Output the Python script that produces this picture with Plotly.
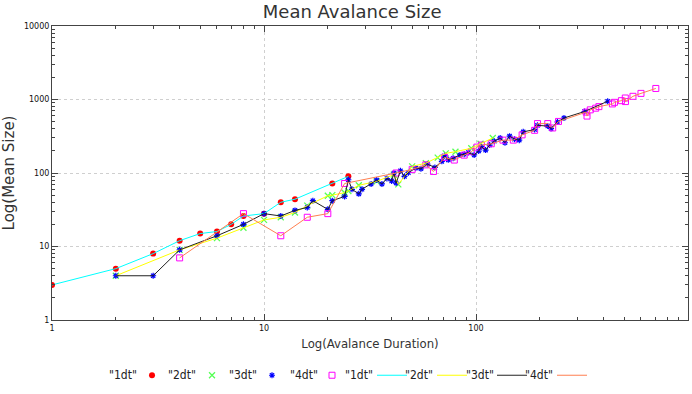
import plotly.graph_objects as go

# ---- data ----
dur_1dt = [1, 2, 3, 4, 5, 6, 7, 8, 10, 12, 14, 21, 25]
size_1dt = [3, 5, 8, 12, 15, 16, 20, 26, 28, 40, 44, 72, 90]

dur_2dt = [2, 4, 6, 8, 10, 12, 14, 16, 20, 21, 24, 25, 28, 34, 41, 43, 50, 58, 66, 72, 80, 95, 105, 120]
size_2dt = [4, 9, 13, 18, 23, 25, 29, 36, 49, 50, 54, 57, 68, 77, 95, 70, 123, 136, 162, 185, 195, 217, 250, 300]

dur_3dt = [2, 3, 4, 6, 8, 10, 12, 14, 16, 17, 20, 21, 24, 25, 26, 28, 29, 32, 34, 36, 38, 40, 41, 42, 44, 46, 48,
           52, 55, 59, 64, 69, 71, 74, 78, 84, 88, 92, 98, 103, 106, 111, 116, 122, 130, 137, 144, 152, 160, 167,
           189, 195, 218, 226, 242, 260, 325, 418]
size_3dt = [4, 4, 9, 14, 20, 28, 26, 31, 34, 42, 32, 42, 48, 81, 60, 52, 60, 71, 80, 71, 84, 78, 100, 73, 107, 90, 101,
            117, 114, 132, 119, 144, 171, 151, 159, 176, 180, 190, 176, 199, 228, 205, 240, 271, 300, 258, 317, 288, 280, 363,
            390, 445, 435, 402, 494, 560, 686, 946]

dur_4dt = [4, 8, 12, 16, 20, 24, 42, 50, 58, 63, 71, 79, 88, 95, 101, 106, 118, 134, 150, 165, 189, 195, 218, 230,
           245, 331, 334, 346, 367, 380, 440, 450, 485, 506, 507, 550, 600, 705]
size_4dt = [7, 28, 14, 25, 28, 72, 100, 112, 129, 105, 163, 150, 175, 195, 225, 240, 250, 280, 280, 330, 381, 470, 470, 410,
            503, 673, 595, 723, 762, 800, 871, 915, 964, 1048, 937, 1105, 1211, 1413]

series_names = ['"1dt"', '"2dt"', '"3dt"', '"4dt"']
x_ticks = [1, 10, 100, 1000]
y_ticks = [1, 10, 100, 1000, 10000]

durations = [dur_1dt, dur_2dt, dur_3dt, dur_4dt]
sizes = [size_1dt, size_2dt, size_3dt, size_4dt]

marker_styles = [
    dict(symbol="circle", size=6, color="#ff0000"),
    dict(symbol="x-thin-open", size=6, color="#55ff55", line=dict(width=1.3, color="#55ff55")),
    dict(symbol="asterisk-open", size=5, color="#0000ff", line=dict(width=1.2, color="#1a1aff")),
    dict(symbol="square-open", size=6, color="#ff00ff", line=dict(width=1, color="#ff00ff")),
]
line_colors = ["#00ffff", "#ffff00", "#222222", "#ff7f50"]

fig = go.Figure()
for name, xs, ys, ms in zip(series_names, durations, sizes, marker_styles):
    fig.add_trace(go.Scatter(x=xs, y=ys, mode="markers", marker=ms, name=name, legendgroup="p" + name))
for name, xs, ys, lc in zip(series_names, durations, sizes, line_colors):
    fig.add_trace(go.Scatter(x=xs, y=ys, mode="lines", line=dict(color=lc, width=1), name=name,
                             legendgroup="l" + name))

# legend labels are drawn before the symbol, as in the reference
L, R, T, B = 52, 4, 26, 70
W, H = 692, 394
pw = W - L - R
ph = H - T - B
sym_px = [152, 211, 272, 333, 392, 452, 513, 572]
label_offsets = [29, 29, 29, 29, 33, 33, 33, 33]
label_names = series_names + series_names
annotations = []
for px, off, lab in zip(sym_px, label_offsets, label_names):
    annotations.append(dict(x=(px - off - L) / pw, y=(T + ph - 380) / ph, xref="paper", yref="paper",
                            text=lab, showarrow=False, xanchor="center", yanchor="middle",
                            font=dict(family="DejaVu Sans Condensed", size=12, color="#222")))


def minor_vals(top_exp):
    return [k * 10 ** e for e in range(top_exp) for k in range(2, 10)]


axis_common = dict(
    type="log", showline=True, linecolor="#444", linewidth=1, mirror="allticks",
    ticks="inside", ticklen=6, tickcolor="#444", tickwidth=1,
    showgrid=True, gridcolor="#cfcfcf", griddash="dot", gridwidth=1,
    zeroline=False, tickfont=dict(family="DejaVu Sans", size=8, color="#111"),
)

fig.update_layout(
    width=W, height=H,
    margin=dict(l=L, r=R, t=T, b=B),
    plot_bgcolor="white", paper_bgcolor="white",
    title=dict(text="Mean Avalance Size", x=0.509, xref="container", xanchor="center",
               y=1 - 12 / H, yref="container", yanchor="middle",
               font=dict(family="DejaVu Sans", size=18, color="#333")),
    xaxis=dict(axis_common, range=[0, 3], tickvals=x_ticks, ticktext=[str(v) for v in x_ticks],
               minor=dict(ticks="inside", ticklen=3, tickcolor="#444", showgrid=False, tickvals=minor_vals(3)),
               title=dict(text="Log(Avalance Duration)", standoff=7,
                          font=dict(family="DejaVu Sans Condensed", size=13, color="#333"))),
    yaxis=dict(axis_common, range=[0, 4], tickvals=y_ticks, ticktext=[str(v) for v in y_ticks],
               minor=dict(ticks="inside", ticklen=3, tickcolor="#444", showgrid=False, tickvals=minor_vals(4)),
               title=dict(text="Log(Mean Size)", standoff=6,
                          font=dict(family="DejaVu Sans", size=15, color="#333"))),
    legend=dict(orientation="h", x=(132 - L) / pw, xanchor="left", y=(T + ph - 380) / ph, yanchor="middle",
                entrywidth=15, entrywidthmode="pixels", font=dict(size=1, color="rgba(0,0,0,0)"),
                bgcolor="rgba(0,0,0,0)", borderwidth=0, tracegroupgap=0, itemwidth=30),
    annotations=annotations,
)

fig.write_html("out.html")
